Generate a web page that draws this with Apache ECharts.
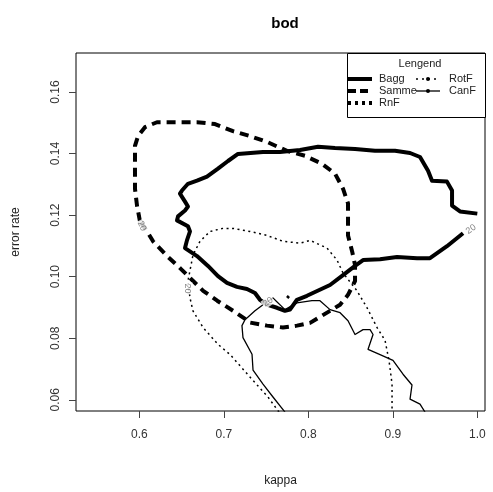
<!DOCTYPE html>
<html>
<head>
<meta charset="utf-8">
<script src="https://cdn.jsdelivr.net/npm/echarts@6/dist/echarts.min.js"></script>
<style>
  html, body { margin: 0; padding: 0; background: #fff; }
  #chart { width: 493px; height: 492px; }
</style>
</head>
<body>
<div id="chart"></div>
<script>
// Level-20 density contours of (kappa, error rate) for five ensemble classifiers.
const xTicks = [0.6, 0.7, 0.8, 0.9, 1.0];
const yTicks = [0.06, 0.08, 0.10, 0.12, 0.14, 0.16];

const bagg = [
  [1.000,0.1205],[0.9795,0.1212],[0.9701,0.1231],[0.9701,0.1280],[0.9641,0.1309],
  [0.9464,0.1312],[0.9417,0.1344],[0.9322,0.1389],[0.9204,0.1402],[0.9026,0.1409],
  [0.8789,0.1409],[0.8553,0.1415],[0.8316,0.1418],[0.8115,0.1422],[0.7902,0.1412],
  [0.7665,0.1405],[0.7464,0.1405],[0.7168,0.1399],[0.7050,0.1376],[0.6931,0.1351],
  [0.6801,0.1325],[0.6683,0.1312],[0.6576,0.1302],[0.6505,0.1280],[0.6481,0.1270],
  [0.6541,0.1244],[0.6576,0.1228],[0.6541,0.1215],[0.6458,0.1196],[0.6446,0.1183],
  [0.6576,0.1164],[0.6600,0.1147],[0.6564,0.1118],[0.6541,0.1093],[0.6683,0.1067],
  [0.6813,0.1035],[0.6931,0.1002],[0.7038,0.0980],[0.7156,0.0967],[0.7274,0.0960],
  [0.7369,0.0947],[0.7428,0.0925],[0.7511,0.0909],[0.7629,0.0899],[0.7724,0.0889],
  [0.7783,0.0893],[0.7866,0.0925],[0.7984,0.0938],[0.8257,0.0973],[0.8411,0.1005],
  [0.8553,0.1035],[0.8648,0.1054],[0.8849,0.1057],[0.9050,0.1064],[0.9287,0.1060],
  [0.9440,0.1060],[0.9641,0.1099],[0.9831,0.1141]
];

const samme = [
  [0.6008,0.1180],[0.5973,0.1231],[0.5949,0.1286],[0.5949,0.1360],[0.5949,0.1425],
  [0.5985,0.1457],[0.6067,0.1486],[0.6209,0.1502],[0.6399,0.1502],[0.6683,0.1502],
  [0.6896,0.1496],[0.7109,0.1473],[0.7310,0.1457],[0.7511,0.1438],[0.7747,0.1409],
  [0.7960,0.1393],[0.8161,0.1367],[0.8316,0.1335],[0.8411,0.1286],[0.8470,0.1238],
  [0.8470,0.1189],[0.8470,0.1134],[0.8518,0.1083],[0.8553,0.1038],[0.8553,0.0986],
  [0.8470,0.0941],[0.8376,0.0909],[0.8257,0.0889],[0.8021,0.0850],[0.7866,0.0841],
  [0.7700,0.0835],[0.7511,0.0841],[0.7310,0.0851],[0.7274,0.0859],[0.7111,0.0889],
  [0.6922,0.0922],[0.6756,0.0954],[0.6637,0.0986],[0.6482,0.1028],[0.6329,0.1067],
  [0.6163,0.1115],[0.6092,0.1147],[0.6008,0.1180]
];

const rnf = [
  [0.7750,0.0931],[0.7770,0.0931],[0.7770,0.0937],[0.7750,0.0937],[0.7750,0.0931]
];

const rotf = [
  [0.7653,0.0560],[0.7523,0.0609],[0.7312,0.0673],[0.7074,0.0747],[0.6932,0.0780],
  [0.6754,0.0835],[0.6635,0.0889],[0.6600,0.0931],[0.6576,0.0986],[0.6635,0.1070],
  [0.6718,0.1115],[0.6837,0.1147],[0.6990,0.1157],[0.7109,0.1157],[0.7310,0.1147],
  [0.7511,0.1134],[0.7700,0.1115],[0.7902,0.1109],[0.8021,0.1118],[0.8222,0.1093],
  [0.8340,0.1054],[0.8411,0.1012],[0.8577,0.0954],[0.8695,0.0899],[0.8813,0.0835],
  [0.8908,0.0793],[0.8955,0.0728],[0.8991,0.0651],[0.8991,0.0560]
];

const canf = [
  [0.7724,0.0560],[0.7582,0.0609],[0.7464,0.0651],[0.7346,0.0696],[0.7334,0.0748],
  [0.7227,0.0802],[0.7215,0.0841],[0.7251,0.0860],[0.7369,0.0889],[0.7464,0.0909],
  [0.7582,0.0931],[0.7724,0.0893],[0.7866,0.0915],[0.8043,0.0922],[0.8138,0.0922],
  [0.8257,0.0893],[0.8376,0.0883],[0.8470,0.0857],[0.8553,0.0812],[0.8648,0.0828],
  [0.8731,0.0828],[0.8766,0.0812],[0.8707,0.0764],[0.8849,0.0747],[0.9002,0.0728],
  [0.9121,0.0683],[0.9227,0.0648],[0.9204,0.0602],[0.9322,0.0586],[0.9381,0.0560]
];

// contour level labels: [kappa, error rate, text angle]
const levelLabels = [
  [0.9925, 0.1154, 35],
  [0.6030, 0.1165, -65],
  [0.6576, 0.0962, -90],
  [0.7523, 0.0918, 35]
];
const levelText = '20';

const chart = echarts.init(document.getElementById('chart'), null, { renderer: 'canvas' });

const FONT = 'Liberation Sans, Arial, sans-serif';
const ink = '#000';

function contour(name, data, width, dash) {
  return {
    name: name,
    type: 'line',
    data: data,
    showSymbol: false,
    symbol: 'none',
    silent: true,
    clip: true,
    animation: false,
    lineStyle: { color: ink, width: width, type: dash, cap: 'butt', join: 'round' }
  };
}

// legend box, drawn in pixel space inside the plot's top-right corner
const lg = { x: 347, y: 53, w: 138, h: 64 };
const legendRows = [
  { text: 'Bagg',  col: 0, row: 0, width: 4, dash: 'solid', dot: false },
  { text: 'Samme', col: 0, row: 1, width: 4, dash: [8, 4], dot: false },
  { text: 'RnF',   col: 0, row: 2, width: 4, dash: [3, 4], dot: false },
  { text: 'RotF',  col: 1, row: 0, width: 1.5, dash: [2, 4], dot: true },
  { text: 'CanF',  col: 1, row: 1, width: 1.3, dash: 'solid', dot: true }
];
const legendGraphics = [
  { type: 'rect', shape: { x: lg.x + 0.5, y: lg.y + 0.5, width: lg.w, height: lg.h },
    style: { fill: '#fff', stroke: '#000', lineWidth: 1 }, z: 100 },
  { type: 'text', x: 420, y: 64, z: 101,
    style: { text: 'Lengend', font: '11px ' + FONT, fill: '#222', align: 'center', verticalAlign: 'middle' } }
];
legendRows.forEach(r => {
  const y = 79 + r.row * 12;
  const x0 = r.col === 0 ? 348 : 416;
  const x1 = r.col === 0 ? 372 : 440;
  const tx = r.col === 0 ? 379 : 449;
  legendGraphics.push({ type: 'line', z: 101,
    shape: { x1: x0, y1: y, x2: x1, y2: y },
    style: { stroke: '#000', lineWidth: r.width, lineDash: r.dash === 'solid' ? null : r.dash } });
  if (r.dot) {
    legendGraphics.push({ type: 'circle', z: 102,
      shape: { cx: (x0 + x1) / 2, cy: y, r: 2 }, style: { fill: '#000' } });
  }
  legendGraphics.push({ type: 'text', x: tx, y: y, z: 101,
    style: { text: r.text, font: '11px ' + FONT, fill: '#222', verticalAlign: 'middle' } });
});

chart.setOption({
  animation: false,
  backgroundColor: '#fff',
  title: {
    text: 'bod',
    left: 280, top: 11, textAlign: 'center',
    textStyle: { fontFamily: FONT, fontWeight: 'bold', fontSize: 15, color: '#000' }
  },
  grid: {
    left: 76, right: 8, top: 53, bottom: 78,
    show: true, borderColor: '#000', borderWidth: 1, backgroundColor: 'transparent'
  },
  xAxis: {
    type: 'value', min: 0.5251, max: 1.0091,
    name: 'kappa', nameLocation: 'middle', nameGap: 64,
    nameTextStyle: { fontFamily: FONT, fontSize: 12, color: '#222' },
    axisLine: { show: false },
    splitLine: { show: false },
    axisTick: { show: true, inside: false, length: 7, customValues: xTicks, lineStyle: { color: '#444' } },
    axisLabel: { customValues: xTicks, margin: 18, fontFamily: FONT, fontSize: 12, color: '#333',
      formatter: v => v.toFixed(1) }
  },
  yAxis: {
    type: 'value', min: 0.05635, max: 0.1727,
    name: 'error rate', nameLocation: 'middle', nameGap: 54, nameRotate: 90,
    nameTextStyle: { fontFamily: FONT, fontSize: 12, color: '#222' },
    axisLine: { show: false },
    splitLine: { show: false },
    axisTick: { show: true, inside: false, length: 7, customValues: yTicks, lineStyle: { color: '#444' } },
    axisLabel: { customValues: yTicks, rotate: 90, margin: 14, fontFamily: FONT, fontSize: 12, color: '#333',
      formatter: v => v.toFixed(2) }
  },
  series: [
    contour('Bagg', bagg, 4, 'solid'),
    contour('Samme', samme, 4, [9, 6]),
    contour('RnF', rnf, 3, 'solid'),
    contour('RotF', rotf, 1.5, [2, 3.5]),
    contour('CanF', canf, 1.3, 'solid'),
    {
      name: 'levels',
      type: 'scatter',
      silent: true,
      symbolSize: 0,
      z: 5,
      data: levelLabels.map(l => ({
        value: [l[0], l[1]],
        label: { rotate: l[2] }
      })),
      label: {
        show: true, position: 'inside', formatter: levelText,
        fontFamily: FONT, fontSize: 9, color: '#666',
        backgroundColor: '#fff', padding: [0, 1]
      }
    }
  ],
  graphic: legendGraphics
});
</script>
</body>
</html>
